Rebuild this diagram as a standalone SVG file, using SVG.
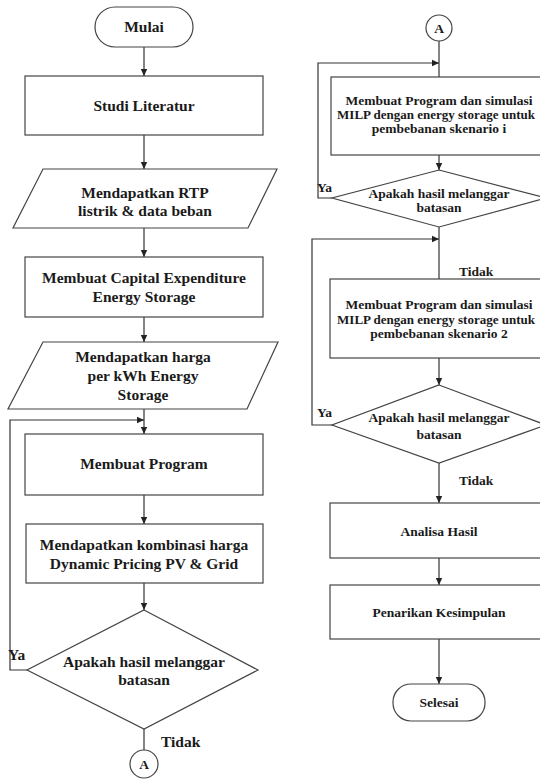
<svg xmlns="http://www.w3.org/2000/svg" width="540" height="779" viewBox="0 0 540 779">
<style>
.s{fill:#fff;stroke:#444;stroke-width:1.2}
.c{fill:none;stroke:#333;stroke-width:1.2}
.t{font-family:"Liberation Serif","Times New Roman",serif;font-weight:bold;fill:#1a1a1a;text-anchor:middle}
.l{font-size:15.5px}
.r{font-size:13.5px}
.n{font-size:13px}
.a{text-anchor:start}
</style>
<defs>
<marker id="ar" markerWidth="8" markerHeight="8" refX="7" refY="4" orient="auto" markerUnits="userSpaceOnUse">
<path d="M0,0.8 L7,4 L0,7.2 Z" fill="#222"/>
</marker>
</defs>
<rect width="540" height="779" fill="#fff"/>
<g id="connectors">
<line class="c" x1="144" y1="47" x2="144" y2="76" marker-end="url(#ar)"/>
<line class="c" x1="144" y1="135" x2="144" y2="169" marker-end="url(#ar)"/>
<line class="c" x1="144" y1="228" x2="144" y2="257" marker-end="url(#ar)"/>
<line class="c" x1="144" y1="317" x2="144" y2="342" marker-end="url(#ar)"/>
<line class="c" x1="144" y1="409" x2="144" y2="434" marker-end="url(#ar)"/>
<polyline class="c" points="27,670 10,670 10,420 144,420" marker-end="url(#ar)"/>
<line class="c" x1="144" y1="495" x2="144" y2="524" marker-end="url(#ar)"/>
<line class="c" x1="144" y1="583" x2="144" y2="610" marker-end="url(#ar)"/>
<line class="c" x1="144" y1="729" x2="144" y2="750"/>
<line class="c" x1="439" y1="41" x2="439" y2="77"/>
<polyline class="c" points="332,198 318,198 318,63 439,63" marker-end="url(#ar)"/>
<line class="c" x1="439" y1="155" x2="439" y2="170" marker-end="url(#ar)"/>
<line class="c" x1="439" y1="227" x2="439" y2="279"/>
<polyline class="c" points="332,425 312,425 312,239 439,239" marker-end="url(#ar)"/>
<line class="c" x1="439" y1="358" x2="439" y2="385" marker-end="url(#ar)"/>
<line class="c" x1="439" y1="463" x2="439" y2="503" marker-end="url(#ar)"/>
<line class="c" x1="439" y1="558" x2="439" y2="585" marker-end="url(#ar)"/>
<line class="c" x1="439" y1="639" x2="439" y2="684" marker-end="url(#ar)"/>
<text class="t l a" x="8" y="660">Ya</text>
<text class="t l a" x="161" y="747">Tidak</text>
<text class="t r a" x="317" y="192">Ya</text>
<text class="t r a" x="459" y="276">Tidak</text>
<text class="t r a" x="317" y="417">Ya</text>
<text class="t r a" x="459" y="485">Tidak</text>
</g>
<g id="mulai"><rect class="s" x="95" y="7" width="98" height="40" rx="20"/><text class="t l" x="144" y="32">Mulai</text></g>
<g id="studi"><rect class="s" x="25" y="76" width="238" height="59"/><text class="t l" x="144" y="111">Studi Literatur</text></g>
<g id="rtp"><polygon class="s" points="43,169 277,169 248,228 13,228"/><text class="t l" x="145" y="198">Mendapatkan RTP</text><text class="t l" x="145" y="216">listrik &amp; data beban</text></g>
<g id="capex"><rect class="s" x="25" y="257" width="238" height="60"/><text class="t l" x="144" y="283">Membuat Capital Expenditure</text><text class="t l" x="144" y="302">Energy Storage</text></g>
<g id="harga"><polygon class="s" points="43,342 278,342 247,409 8,409"/><text class="t l" x="143" y="362">Mendapatkan harga</text><text class="t l" x="143" y="381">per kWh Energy</text><text class="t l" x="143" y="400">Storage</text></g>
<g id="program"><rect class="s" x="25" y="434" width="238" height="61"/><text class="t l" x="144" y="469">Membuat Program</text></g>
<g id="kombinasi"><rect class="s" x="26" y="524" width="237" height="59"/><text class="t l" x="144" y="550">Mendapatkan kombinasi harga</text><text class="t l" x="144" y="569">Dynamic Pricing PV &amp; Grid</text></g>
<g id="cek1"><polygon class="s" points="144,610 258,670 144,729 27,670"/><text class="t l" x="144" y="667">Apakah hasil melanggar</text><text class="t l" x="144" y="685">batasan</text></g>
<g id="a1"><circle class="s" cx="144" cy="764" r="14"/><text class="t r" x="144" y="769">A</text></g>
<g id="a2"><circle class="s" cx="439" cy="28" r="13"/><text class="t r" x="439" y="33">A</text></g>
<g id="sim1"><rect class="s" x="331" y="77" width="217" height="78"/><text class="t r" x="439" y="105">Membuat Program dan simulasi</text><text class="t n" x="436" y="119">MILP dengan energy storage untuk</text><text class="t r" x="439" y="133">pembebanan skenario i</text></g>
<g id="cek2"><polygon class="s" points="439,170 546,198 439,227 332,198"/><text class="t r" x="439" y="198">Apakah hasil melanggar</text><text class="t r" x="439" y="212">batasan</text></g>
<g id="sim2"><rect class="s" x="330" y="279" width="218" height="79"/><text class="t r" x="439" y="309">Membuat Program dan simulasi</text><text class="t n" x="436" y="324">MILP dengan energy storage untuk</text><text class="t r" x="439" y="338">pembebanan skenario 2</text></g>
<g id="cek3"><polygon class="s" points="439,385 546,425 439,463 332,425"/><text class="t r" x="439" y="422">Apakah hasil melanggar</text><text class="t r" x="439" y="439">batasan</text></g>
<g id="analisa"><rect class="s" x="330" y="503" width="218" height="55"/><text class="t r" x="439" y="536">Analisa Hasil</text></g>
<g id="kesimpulan"><rect class="s" x="330" y="585" width="218" height="54"/><text class="t r" x="439" y="617">Penarikan Kesimpulan</text></g>
<g id="selesai"><rect class="s" x="393" y="684" width="92" height="37" rx="18"/><text class="t r" x="439" y="707">Selesai</text></g>
</svg>
